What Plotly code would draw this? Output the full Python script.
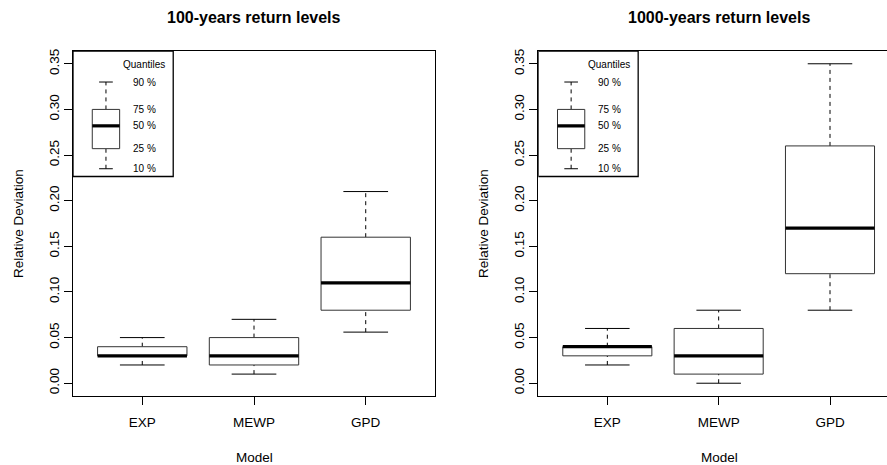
from plotly.graph_objects import Figure as plotly_Figure, Scatter as plotly_Scatter

FIG_W = 887
FIG_H = 465
FONT = "Liberation Sans, Arial, sans-serif"

models = ["EXP", "MEWP", "GPD"]
panel_titles = ["100-years return levels", "1000-years return levels"]

# whisker low, box low, median, box high, whisker high per model
rl100_lo = [0.02, 0.01, 0.056]
rl100_q1 = [0.03, 0.02, 0.08]
rl100_med = [0.03, 0.03, 0.11]
rl100_q3 = [0.04, 0.05, 0.16]
rl100_hi = [0.05, 0.07, 0.21]

rl1000_lo = [0.02, 0.00, 0.08]
rl1000_q1 = [0.03, 0.01, 0.12]
rl1000_med = [0.04, 0.03, 0.17]
rl1000_q3 = [0.04, 0.06, 0.26]
rl1000_hi = [0.06, 0.08, 0.35]

# the little key box in the upper left corner
key_values = [0.235, 0.257, 0.282, 0.300, 0.330]
key_labels = ["10 %", "25 %", "50 %", "75 %", "90 %"]

y_ticks = [0.0, 0.05, 0.10, 0.15, 0.20, 0.25, 0.30, 0.35]


def px_x(p):
    return p / FIG_W


def px_y(p):
    return 1 - p / FIG_H


def box_traces(pos, lo, q1, med, q3, hi, width, xa, ya):
    # R style boxplot: dashed whiskers, solid staples, thick median
    half = width / 2
    cap = width / 4
    box_x, box_y, med_x, med_y, wh_x, wh_y, cap_x, cap_y = ([] for _ in range(8))
    for c, a, b, m, d, e in zip(pos, lo, q1, med, q3, hi):
        box_x += [c - half, c + half, c + half, c - half, c - half, None]
        box_y += [b, b, d, d, b, None]
        med_x += [c - half, c + half, None]
        med_y += [m, m, None]
        wh_x += [c, c, None, c, c, None]
        wh_y += [a, b, None, d, e, None]
        cap_x += [c - cap, c + cap, None, c - cap, c + cap, None]
        cap_y += [a, a, None, e, e, None]
    common = dict(mode="lines", xaxis=xa, yaxis=ya, showlegend=False, hoverinfo="skip")
    return [
        plotly_Scatter(x=wh_x, y=wh_y, line=dict(color="black", width=1, dash="4px,4px"), **common),
        plotly_Scatter(x=cap_x, y=cap_y, line=dict(color="black", width=1), **common),
        plotly_Scatter(
            x=box_x, y=box_y, fill="toself", fillcolor="white",
            line=dict(color="#333", width=1), **common
        ),
        plotly_Scatter(x=med_x, y=med_y, line=dict(color="black", width=3.2), **common),
    ]


def add_text(fig, x, y, text, size, xref="paper", yref="paper", angle=0):
    fig.add_annotation(
        x=x, y=y, xref=xref, yref=yref, text=text, showarrow=False,
        xanchor="center", yanchor="middle", textangle=angle,
        font=dict(size=size, family=FONT, color="black"),
    )


def get_return_levels_fig() -> plotly_Figure:
    fig = plotly_Figure()
    panels = [
        dict(xa="x", ya="y", data=(rl100_lo, rl100_q1, rl100_med, rl100_q3, rl100_hi),
             dom=[px_x(73), px_x(435)], xr=[0.38, 3.62], mid=254),
        dict(xa="x2", ya="y2", data=(rl1000_lo, rl1000_q1, rl1000_med, rl1000_q3, rl1000_hi),
             dom=[px_x(538.3), 1.0], xr=[0.38, 3.512], mid=719),
    ]
    y_range = [-0.014, 0.364]
    y_dom = [px_y(396), px_y(51)]
    tick_text = ["%.2f" % v for v in y_ticks]
    for i, p in enumerate(panels):
        lo, q1, med, q3, hi = p["data"]
        for tr in box_traces([1, 2, 3], lo, q1, med, q3, hi, 0.8, p["xa"], p["ya"]):
            fig.add_trace(tr)
        # key
        k_lo, k_q1, k_med, k_q3, k_hi = key_values
        for tr in box_traces([0.675], [k_lo], [k_q1], [k_med], [k_q3], [k_hi], 0.245, p["xa"], p["ya"]):
            fig.add_trace(tr)
        fig.add_shape(
            type="rect", xref=p["xa"], yref=p["ya"], x0=0.38, x1=1.277,
            y0=0.2265, y1=0.364, line=dict(color="black", width=1.3),
            fillcolor="white", layer="below",
        )
        add_text(fig, 1.015, 0.3495, "Quantiles", 10, p["xa"], p["ya"])
        for v, lab in zip(key_values, key_labels):
            add_text(fig, 1.022, v, lab, 10, p["xa"], p["ya"])
        # titles
        add_text(fig, px_x(p["mid"]), px_y(18), "<b>" + panel_titles[i] + "</b>", 16)
        add_text(fig, px_x(p["mid"]), px_y(457), "Model", 13.5)
        add_text(fig, px_x(18 if i == 0 else 483), px_y(224), "Relative Deviation", 13.5, angle=-90)
        suffix = "" if i == 0 else "2"
        fig.update_layout(**{
            "xaxis" + suffix: dict(
                domain=p["dom"], range=p["xr"], anchor="y" + suffix,
                tickvals=[1, 2, 3], ticktext=models, ticks="outside", ticklen=8,
                tickcolor="black", showgrid=False, zeroline=False, automargin=False,
                showline=True, linecolor="black", linewidth=1, mirror=True,
                tickfont=dict(size=13.5, family=FONT, color="black"),
                ticklabelstandoff=6,
            ),
            "yaxis" + suffix: dict(
                domain=y_dom, range=y_range, anchor="x" + suffix,
                tickvals=y_ticks, ticktext=tick_text, ticks="outside", ticklen=8,
                tickcolor="black", tickangle=-90, showgrid=False, zeroline=False,
                automargin=False, showline=True, linecolor="black", linewidth=1,
                mirror=(i == 0),
                tickfont=dict(size=13.5, family=FONT, color="black"),
            ),
        })

    fig.update_layout(
        width=FIG_W, height=FIG_H, margin=dict(l=0, r=0, t=0, b=0, autoexpand=False),
        plot_bgcolor="white", paper_bgcolor="white", showlegend=False,
    )
    return fig


fig = get_return_levels_fig()
# the page's default body margin would push the figure 8px off the corner
fig.write_html(
    "out.html",
    config={"displayModeBar": False},
    post_script="document.body.style.margin = '0';",
)
